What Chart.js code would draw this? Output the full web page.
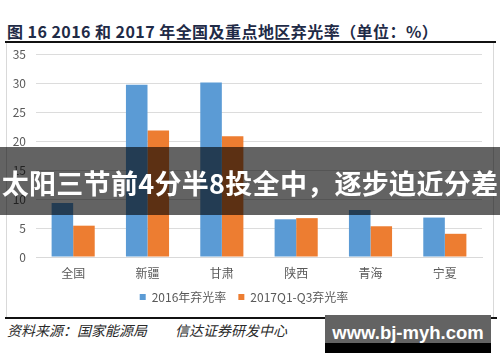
<!DOCTYPE html>
<html><head><meta charset="utf-8">
<script src="https://cdn.jsdelivr.net/npm/chart.js@4.4.1/dist/chart.umd.min.js"></script>
<style>
html,body{margin:0;padding:0;background:#fff;width:500px;height:362px;overflow:hidden;position:relative;font-family:"Noto Sans CJK SC","Noto Sans",sans-serif;}
#title{position:absolute;left:7px;top:20px;font-size:16px;font-weight:bold;color:#1f2b47;white-space:nowrap;line-height:22px;letter-spacing:0.45px;}
#topline{position:absolute;left:5px;top:41px;width:491px;height:2px;background:#111;}
#box{position:absolute;left:6px;top:43px;width:486px;height:275px;border-left:1px solid #d9d9d9;border-right:1px solid #d9d9d9;}
#wrap{position:absolute;left:6px;top:44px;width:487px;height:273px;}
#botline{position:absolute;left:5px;top:317px;width:492px;height:2px;background:#111;}
#source{position:absolute;left:7px;top:320px;font-size:14px;font-style:italic;color:#2a2a2a;white-space:nowrap;line-height:20px;}
#source span{display:inline-block;}
#overlay{position:absolute;left:0;top:147px;width:500px;height:68px;background:rgba(0,0,0,0.61);}
#banner{position:absolute;left:0;top:164px;width:500px;text-align:center;font-size:27px;font-weight:bold;color:#fff;white-space:nowrap;line-height:38px;letter-spacing:0.3px;}
#wm{position:absolute;left:325px;top:315px;width:166px;height:28px;background:#636363;}
#wm2{position:absolute;left:325px;top:343px;width:166px;height:10px;background:#000;}
#wmt{position:absolute;left:325px;top:320px;width:166px;text-align:center;font-family:"Liberation Sans",Arial,sans-serif;font-weight:bold;font-size:18.5px;color:#fff;line-height:26px;}
</style></head>
<body>
<div id="title">图 16 2016 和 2017 年全国及重点地区弃光率（单位：%）</div>
<div id="topline"></div>
<div id="box"></div>
<div id="wrap"><canvas id="c"></canvas></div>
<div id="botline"></div>
<div id="source"><span style="width:168px">资料来源：国家能源局</span><span>信达证券研发中心</span></div>
<div id="overlay"></div>
<div id="banner">太阳三节前4分半8投全中，逐步迫近分差</div>
<div id="wm"></div><div id="wm2"></div>
<div id="wmt">www.bj-myh.com</div>
<script>
const categories = ['全国','新疆','甘肃','陕西','青海','宁夏'];
const rate2016 = [9.3, 29.7, 30.1, 6.5, 8.1, 6.8];
const rate2017 = [5.4, 21.8, 20.8, 6.7, 5.3, 4.0];
const seriesNames = ['2016年弃光率','2017Q1-Q3弃光率'];
const yTicks = [0,5,10,15,20,25,30,35];

const fontFam = '"Noto Sans CJK SC","Noto Sans",sans-serif';
new Chart(document.getElementById('c'), {
  type: 'bar',
  data: {
    labels: categories,
    datasets: [
      {label: seriesNames[0], data: rate2016, backgroundColor: '#5B9BD5', borderWidth: 0},
      {label: seriesNames[1], data: rate2017, backgroundColor: '#ED7D31', borderWidth: 0}
    ]
  },
  options: {
    responsive: true,
    maintainAspectRatio: false,
    animation: false,
    devicePixelRatio: 1,
    layout: {padding: {left: 0, right: 11, top: 10, bottom: 4}},
    datasets: {bar: {categoryPercentage: 0.58, barPercentage: 1}},
    plugins: {
      tooltip: {enabled: false},
      legend: {
        position: 'bottom',
        labels: {boxWidth: 6, boxHeight: 6, color: '#595959', padding: 12, font: {family: fontFam, size: 12}}
      }
    },
    scales: {
      x: {
        grid: {display: false, drawTicks: false},
        border: {display: true, color: '#d9d9d9'},
        ticks: {color: '#595959', padding: 9, font: {family: fontFam, size: 12}},
        afterFit: s => { s.height = 22; }
      },
      y: {
        min: 0, max: 35,
        afterBuildTicks: s => { s.ticks = yTicks.map(v => ({value: v})); },
        grid: {color: '#dcdcdc', drawTicks: false},
        border: {display: false},
        ticks: {color: '#595959', padding: 10, font: {family: fontFam, size: 12}},
        afterFit: s => { s.width = 30; s.paddingTop = 0; }
      }
    }
  }
});
</script>
</body></html>
